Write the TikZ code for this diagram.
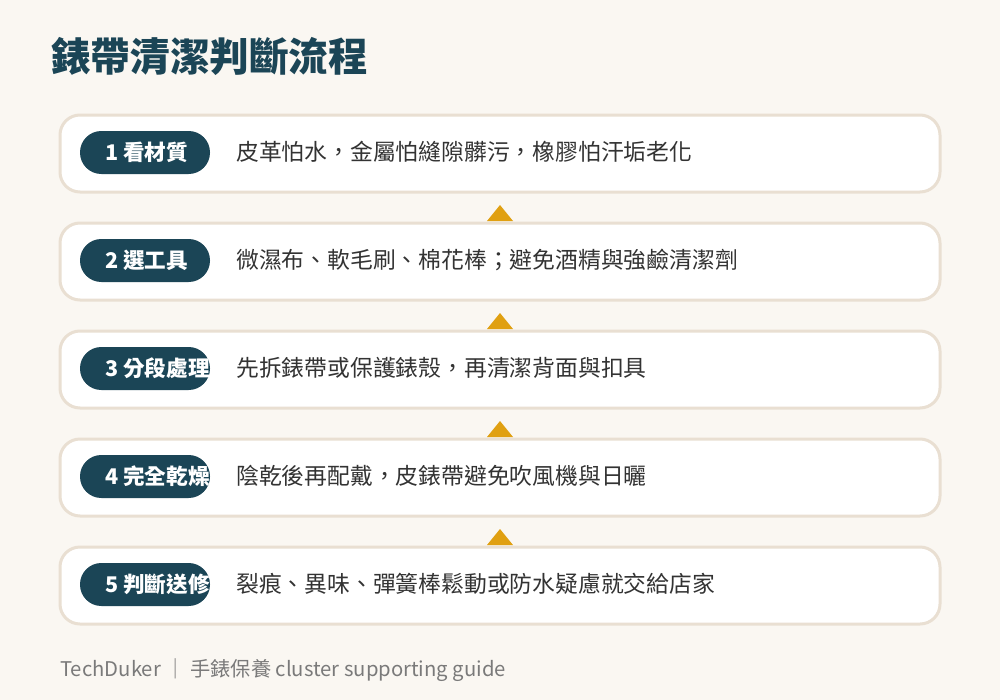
\documentclass[tikz,border=0pt]{standalone}
\usepackage{fontspec}
\setmainfont{Noto Sans CJK TC}
\newfontfamily\cjk{Noto Sans CJK TC}
\definecolor{bgc}{HTML}{FAF7F2}
\definecolor{teal}{HTML}{1B4556}
\definecolor{edge}{HTML}{E9DFD2}
\definecolor{txt}{HTML}{333333}
\definecolor{gold}{HTML}{E0A012}
\definecolor{foot}{HTML}{7A7A7A}
\tikzset{
  rowbox/.style={draw=edge, line width=2.25pt, fill=white, rounded corners=15pt,
    minimum width=660pt, minimum height=57.75pt, inner sep=0pt},
  pill/.style={fill=teal, rounded corners=16pt, minimum width=97.5pt,
    minimum height=32.25pt, inner sep=0pt},
  pilltext/.style={anchor=west, inner sep=0pt, text=white,
    font=\cjk\bfseries\fontsize{16.2pt}{19pt}\selectfont},
  desc/.style={anchor=west, inner sep=0pt, text=txt,
    font=\cjk\fontsize{17.1pt}{20pt}\selectfont},
  tri/.style={fill=gold}
}
\begin{document}
\begin{tikzpicture}[x=0.75pt, y=-0.75pt]
\fill[bgc] (0,0) rectangle (1000,700);
\useasboundingbox (0,0) rectangle (1000,700);
\node[anchor=west, inner sep=0pt, text=teal, font=\cjk\bfseries\fontsize{29.7pt}{33pt}\selectfont] (title) at (51,56) {錶帶清潔判斷流程};
\foreach \i/\lab/\d in {
  1/{1 看材質}/{皮革怕水，金屬怕縫隙髒污，橡膠怕汗垢老化},
  2/{2 選工具}/{微濕布、軟毛刷、棉花棒；避免酒精與強鹼清潔劑},
  3/{3 分段處理}/{先拆錶帶或保護錶殼，再清潔背面與扣具},
  4/{4 完全乾燥}/{陰乾後再配戴，皮錶帶避免吹風機與日曬},
  5/{5 判斷送修}/{裂痕、異味、彈簧棒鬆動或防水疑慮就交給店家}} {
  \pgfmathsetmacro{\yc}{153.5+108*(\i-1)}
  \node[rowbox] (row\i) at (500,\yc) {};
  \node[pill] (pill\i) at (145,\yc-1) {};
  \begin{scope}
    \clip[rounded corners=16pt] (pill\i.south west) rectangle (pill\i.north east);
    \node[pilltext] (lab\i) at (105,\yc-1) {\lab};
  \end{scope}
  \node[desc] (desc\i) at (236,\yc-2) {\d};
}
\foreach \i in {1,2,3,4} {
  \pgfmathsetmacro{\yb}{192+108*(\i-1)}
  \coordinate (apex\i) at (500,\yb+13);
  \fill[tri] (apex\i) -- (513,\yb+29) -- (487,\yb+29) -- cycle;
}
\node[anchor=west, inner sep=0pt, text=foot, font=\cjk\fontsize{15.2pt}{18pt}\selectfont] (footer) at (60,670) {TechDuker ｜ 手錶保養 cluster supporting guide};
\end{tikzpicture}
\end{document}
